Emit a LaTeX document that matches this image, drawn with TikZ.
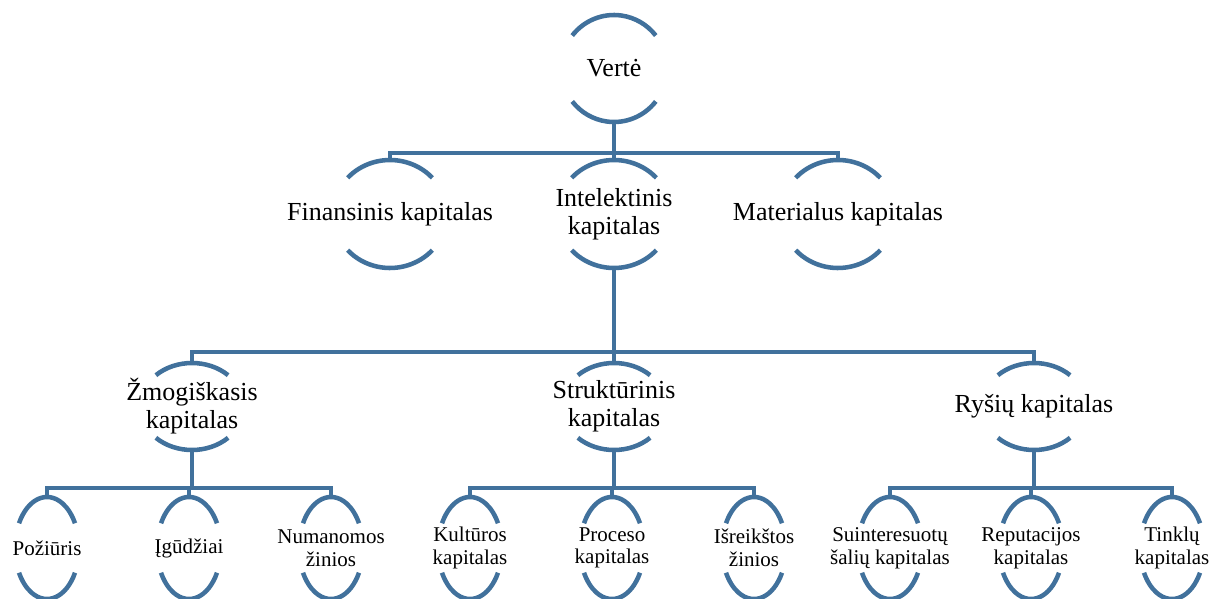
\documentclass[tikz,border=0pt]{standalone}
\usepackage{fontspec}
\setmainfont{Liberation Serif}
\newfontfamily\labelface{Liberation Serif}
\definecolor{rimblue}{HTML}{41719C}
\tikzset{
  rim/.style={draw=rimblue, line width=3.4pt},
  conn/.style={draw=rimblue, line width=3.4pt},
  big/.style={align=center, inner sep=0pt, font=\labelface\fontsize{19.5}{21}\selectfont},
  small/.style={align=center, inner sep=0pt, font=\labelface\fontsize{15.75}{17}\selectfont},
}
% #1 name, #2 x, #3 y, #4 x radius, #5 y radius, #6 arc opening angle, #7 text, #8 style
\newcommand{\capnode}[8]{%
  \node[#8] (#1) at (#2,#3) {#7};
  \coordinate (#1-top) at (#2,#3-#5);
  \coordinate (#1-bot) at (#2,#3+#5);
  \draw[rim] (#2,#3) ++(180+#6:#4 and #5) arc[start angle=180+#6, end angle=360-#6, x radius=#4, y radius=#5];
  \draw[rim] (#2,#3) ++(#6:#4 and #5) arc[start angle=#6, end angle=180-#6, x radius=#4, y radius=#5];
}
\begin{document}
\begin{tikzpicture}[x=0.75pt, y=-0.75pt]
\useasboundingbox (0,0) rectangle (1210,599);

% top
\capnode{v}{614}{68.5}{53}{53.5}{38}{Vertė}{big}

% second row
\capnode{fin}{390}{214}{57}{54}{42}{Finansinis kapitalas}{big}
\capnode{int}{614}{214}{57}{54}{42}{Intelektinis\\kapitalas}{big}
\capnode{mat}{838}{214}{57}{54}{42}{Materialus kapitalas}{big}

% third row
\capnode{zm}{192}{406.5}{52}{43.5}{46}{Žmogiškasis\\kapitalas}{big}
\capnode{st}{614}{406.5}{52}{43.5}{46}{Struktūrinis\\kapitalas}{big}
\capnode{ry}{1034}{406.5}{52}{43.5}{46}{Ryšių kapitalas}{big}

% bottom row
\capnode{po}{47}{548}{32}{51}{29}{Požiūris}{small}
\capnode{ig}{189}{548}{32}{51}{29}{Įgūdžiai}{small}
\capnode{nu}{331}{548}{32}{51}{29}{Numanomos\\žinios}{small}
\capnode{ku}{470}{548}{32}{51}{29}{Kultūros\\kapitalas}{small}
\capnode{pr}{612}{548}{32}{51}{29}{Proceso\\kapitalas}{small}
\capnode{is}{754}{548}{32}{51}{29}{Išreikštos\\žinios}{small}
\capnode{su}{890}{548}{32}{51}{29}{Suinteresuotų\\šalių kapitalas}{small}
\capnode{re}{1031}{548}{32}{51}{29}{Reputacijos\\kapitalas}{small}
\capnode{ti}{1172}{548}{32}{51}{29}{Tinklų\\kapitalas}{small}

% connectors
\foreach \c in {fin,int,mat} \draw[conn] (v-bot) -- ++(0,31) -| (\c-top);
\foreach \c in {zm,st,ry} \draw[conn] (int-bot) -- ++(0,84) -| (\c-top);
\foreach \c in {po,ig,nu} \draw[conn] (zm-bot) -- ++(0,38) -| (\c-top);
\foreach \c in {ku,pr,is} \draw[conn] (st-bot) -- ++(0,38) -| (\c-top);
\foreach \c in {su,re,ti} \draw[conn] (ry-bot) -- ++(0,38) -| (\c-top);
\end{tikzpicture}
\end{document}
